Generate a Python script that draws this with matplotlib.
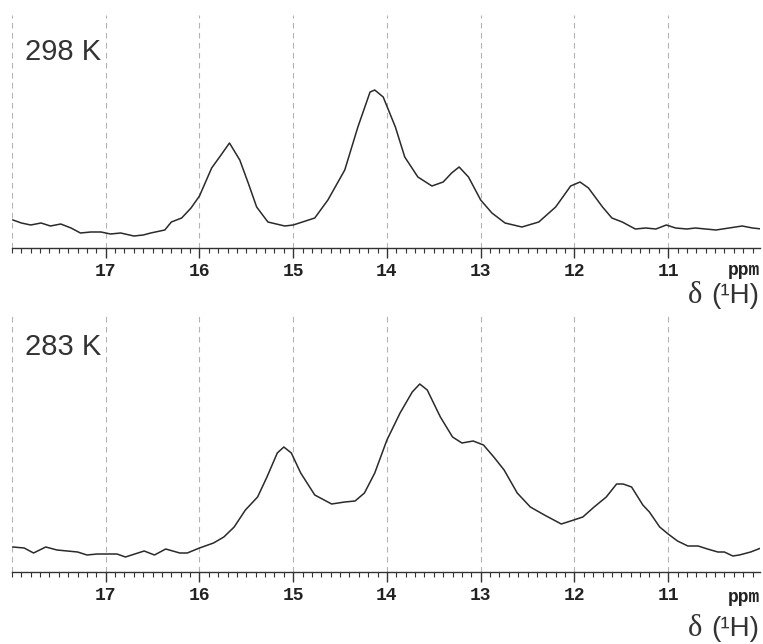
import matplotlib
matplotlib.use("Agg")
import matplotlib.pyplot as plt
from matplotlib.ticker import MultipleLocator

# 1H NMR spectra, chemical shift (ppm) vs intensity (arb. units)
ppm_298 = [17.99, 17.90, 17.80, 17.69, 17.59, 17.48, 17.37, 17.27, 17.16, 17.05,
           16.95, 16.84, 16.70, 16.60, 16.52, 16.37, 16.30, 16.19, 16.09, 16.00,
           15.87, 15.77, 15.68, 15.57, 15.48, 15.39, 15.27, 15.09, 15.00, 14.77,
           14.63, 14.45, 14.31, 14.18, 14.13, 14.04, 13.91, 13.81, 13.67, 13.52,
           13.40, 13.31, 13.23, 13.13, 13.00, 12.88, 12.74, 12.56, 12.38, 12.20,
           12.04, 11.94, 11.85, 11.70, 11.60, 11.49, 11.35, 11.24, 11.13, 11.02,
           10.92, 10.80, 10.71, 10.60, 10.49, 10.35, 10.21, 10.10, 10.00]
int_298 = [0.28, 0.25, 0.23, 0.25, 0.22, 0.24, 0.20, 0.15, 0.16, 0.16,
           0.14, 0.15, 0.12, 0.13, 0.15, 0.18, 0.26, 0.30, 0.40, 0.52,
           0.80, 0.93, 1.05, 0.88, 0.65, 0.41, 0.26, 0.22, 0.23, 0.30,
           0.48, 0.78, 1.21, 1.56, 1.58, 1.51, 1.21, 0.91, 0.71, 0.62,
           0.66, 0.75, 0.81, 0.71, 0.48, 0.35, 0.25, 0.21, 0.26, 0.41,
           0.62, 0.66, 0.60, 0.41, 0.30, 0.26, 0.19, 0.20, 0.19, 0.23,
           0.20, 0.19, 0.20, 0.19, 0.18, 0.20, 0.22, 0.20, 0.19]

ppm_283 = [17.99, 17.87, 17.77, 17.64, 17.52, 17.30, 17.20, 17.09, 16.88, 16.79,
           16.59, 16.48, 16.36, 16.21, 16.13, 16.00, 15.85, 15.74, 15.63, 15.51,
           15.38, 15.28, 15.17, 15.10, 15.02, 14.92, 14.77, 14.59, 14.45, 14.34,
           14.24, 14.13, 14.00, 13.86, 13.73, 13.65, 13.57, 13.43, 13.30, 13.20,
           13.08, 12.97, 12.86, 12.75, 12.61, 12.47, 12.32, 12.14, 12.04, 11.91,
           11.79, 11.66, 11.55, 11.48, 11.39, 11.27, 11.20, 11.09, 11.00, 10.90,
           10.79, 10.68, 10.58, 10.47, 10.40, 10.31, 10.24, 10.12, 10.01]
int_283 = [0.25, 0.24, 0.19, 0.25, 0.22, 0.20, 0.17, 0.18, 0.18, 0.15,
           0.21, 0.17, 0.23, 0.19, 0.19, 0.24, 0.29, 0.35, 0.45, 0.62,
           0.75, 0.95, 1.19, 1.25, 1.19, 0.99, 0.77, 0.68, 0.70, 0.71,
           0.79, 0.99, 1.32, 1.59, 1.80, 1.88, 1.82, 1.55, 1.35, 1.29,
           1.31, 1.27, 1.15, 1.02, 0.79, 0.65, 0.57, 0.48, 0.51, 0.55,
           0.65, 0.75, 0.88, 0.88, 0.85, 0.67, 0.60, 0.45, 0.38, 0.31,
           0.26, 0.26, 0.23, 0.20, 0.20, 0.16, 0.17, 0.20, 0.24]

grid_ppm = [18, 17, 16, 15, 14, 13, 12, 11]
temps = ["298 K", "283 K"]

W, H = 763, 644
fig = plt.figure(figsize=(W / 100, H / 100), dpi=100)

def px_rect(left, top, right, bottom):
    # pixel box -> figure fraction
    return [left / W, 1 - bottom / H, (right - left) / W, (bottom - top) / H]

def draw_panel(ax, ppm, inten, ymax, label, label_y):
    for g in grid_ppm:
        ax.axvline(g, color="#b4b4b4", lw=0.8, dashes=(5, 4), zorder=1)
    ax.plot(ppm, inten, color="#2a2a2a", lw=1.1, zorder=3,
            solid_joinstyle="round")
    ax.set_xlim(18.0, 10.02)
    ax.set_ylim(0, ymax)
    for s in ["left", "right", "top"]:
        ax.spines[s].set_visible(False)
    ax.spines["bottom"].set_color("#333333")
    ax.spines["bottom"].set_linewidth(1.0)
    ax.set_yticks([])
    ax.xaxis.set_major_locator(MultipleLocator(1))
    ax.xaxis.set_minor_locator(MultipleLocator(0.1))
    ax.set_xticks([17, 16, 15, 14, 13, 12, 11])
    ax.tick_params(axis="x", which="major", direction="out", length=7, width=1.0,
                   color="#333333", pad=4)
    ax.tick_params(axis="x", which="minor", direction="out", length=3.5, width=0.8,
                   color="#333333")
    for t in ax.get_xticklabels():
        t.set_fontfamily("Liberation Mono")
        t.set_fontweight("bold")
        t.set_fontsize(13)
        t.set_color("#222222")
    ax.text(1.0, -0.118, "ppm", transform=ax.transAxes, ha="right", va="baseline",
            fontfamily="Liberation Mono", fontweight="bold", fontsize=13, color="#222222")
    ax.text(0.017, label_y, label, transform=ax.transAxes, ha="left", va="baseline",
            fontfamily="Liberation Sans", fontsize=21, color="#333333")

ax1 = fig.add_axes(px_rect(12, 15, 760, 248))
draw_panel(ax1, ppm_298, int_298, 2.33, temps[0], 0.807)

ax2 = fig.add_axes(px_rect(12, 315, 760, 572))
draw_panel(ax2, ppm_283, int_283, 2.57, temps[1], 0.844)

# axis titles  delta (1H)
for base in [303, 636]:
    fig.text(759 / W, 1 - base / H, "(\u00b9H)", ha="right", va="baseline",
             fontfamily="Liberation Sans", fontsize=20, color="#333333")
    fig.text(702 / W, 1 - base / H, "\u03b4", ha="right", va="baseline",
             fontfamily="Liberation Serif", fontsize=22, color="#333333")

fig.savefig("out.png", dpi=100)
